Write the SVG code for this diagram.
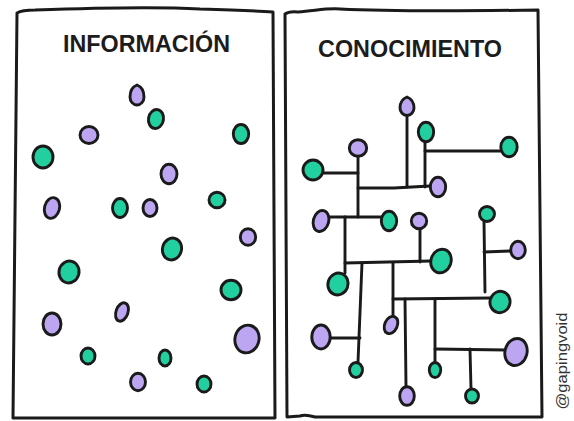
<svg xmlns="http://www.w3.org/2000/svg" width="574" height="421" viewBox="0 0 574 421">
<style>
.frame{fill:none;stroke:#1a1a1a;stroke-width:3;stroke-linejoin:round;stroke-linecap:round}
.g{fill:#22cf9f;stroke:#1a1a1a;stroke-width:2.9}
.p{fill:#bca6f1;stroke:#1a1a1a;stroke-width:2.9}
.title{font-family:"Liberation Sans",Arial,sans-serif;font-weight:bold;font-size:24px;fill:#1c1c1c}
.sig{font-family:"Liberation Sans",Arial,sans-serif;font-size:15px;fill:#333}
#connectors path{fill:none;stroke:#1a1a1a;stroke-width:2.9;stroke-linecap:round}
</style>
<rect width="574" height="421" fill="#ffffff"/>

<!-- Frames -->
<path class="frame" d="M17,13 Q22,10 35,10 C90,8 150,6 200,9 C235,10 258,11 273,12 L275,418 L13,418 Z"/>
<path class="frame" d="M285,14 Q289,11 298,12 C315,11 325,8 340,9 C400,12 470,11 538,10 L542,417 L315,417 Q305,414 300,416 L287,417 Z"/>

<text class="title" x="146.5" y="52" text-anchor="middle" textLength="167" lengthAdjust="spacingAndGlyphs">INFORMACIÓN</text>
<text class="title" x="410" y="57" text-anchor="middle" textLength="184" lengthAdjust="spacingAndGlyphs">CONOCIMIENTO</text>

<text class="sig" transform="translate(567,361) rotate(-90)" text-anchor="middle" textLength="97" lengthAdjust="spacingAndGlyphs">@gapingvoid</text>

<!-- Left panel: information (scattered nodes) -->
<g id="info1"><path class="p" d="M137,85 C142,87 144,92 144,97 A7,8 0 0 1 130,97 C130,92 132,87 137,85 Z"/></g>
<g id="info2"><ellipse class="g" cx="156" cy="119" rx="7.5" ry="9.5" transform="rotate(10 156 119)"/></g>
<g id="info3"><ellipse class="p" cx="89" cy="135" rx="9" ry="8.5"/></g>
<g id="info4"><ellipse class="g" cx="241" cy="134" rx="7.7" ry="9.5"/></g>
<g id="info5"><ellipse class="g" cx="43" cy="157" rx="10" ry="11"/></g>
<g id="info6"><ellipse class="p" cx="169" cy="174" rx="8" ry="9.7"/></g>
<g id="info7"><ellipse class="p" cx="52" cy="208" rx="7.5" ry="10.5" transform="rotate(15 52 208)"/></g>
<g id="info8"><ellipse class="g" cx="120" cy="208" rx="7.5" ry="9.5"/></g>
<g id="info9"><ellipse class="p" cx="150" cy="208" rx="7" ry="8.5"/></g>
<g id="info10"><ellipse class="g" cx="217" cy="200" rx="8" ry="7.8"/></g>
<g id="info11"><ellipse class="p" cx="248" cy="237" rx="7.7" ry="8.3"/></g>
<g id="info12"><ellipse class="g" cx="172" cy="249" rx="9.5" ry="11" transform="rotate(15 172 249)"/></g>
<g id="info13"><ellipse class="g" cx="69" cy="272" rx="10" ry="11" transform="rotate(15 69 272)"/></g>
<g id="info14"><ellipse class="g" cx="231" cy="290" rx="10" ry="9.7"/></g>
<g id="info15"><ellipse class="p" cx="122" cy="312" rx="6" ry="9.5" transform="rotate(20 122 312)"/></g>
<g id="info16"><ellipse class="p" cx="52" cy="324" rx="9" ry="11"/></g>
<g id="info17"><ellipse class="p" cx="247" cy="339" rx="12" ry="14" transform="rotate(15 247 339)"/></g>
<g id="info18"><ellipse class="g" cx="88" cy="356" rx="7" ry="8"/></g>
<g id="info19"><ellipse class="g" cx="165" cy="358" rx="6" ry="8"/></g>
<g id="info20"><ellipse class="p" cx="138" cy="382" rx="7.5" ry="8.7"/></g>
<g id="info21"><ellipse class="g" cx="204" cy="384" rx="7" ry="8"/></g>

<!-- Right panel: connectors -->
<g id="connectors">
<path d="M407,117 L407,187"/>
<path d="M425,142 L425,187"/>
<path d="M425,151 L501,151"/>
<path d="M358,188 L394,188 L430,186"/>
<path d="M358,157 L358,217"/>
<path d="M323,173 L358,173"/>
<path d="M330,217 L381,217"/>
<path d="M345,217 L345,273"/>
<path d="M345,263 L431,261"/>
<path d="M420,229 L420,262"/>
<path d="M362,263 L358,362"/>
<path d="M330,338 L360,338"/>
<path d="M393,263 L393,316"/>
<path d="M393,299 L490,298"/>
<path d="M405,299 L406,386"/>
<path d="M435,299 L435,362"/>
<path d="M435,349 L506,350"/>
<path d="M470,349 L471,389"/>
<path d="M484,222 L485,292"/>
<path d="M484,252 L510,251"/>
</g>

<!-- Right panel: knowledge nodes -->
<g id="kA"><path class="p" d="M407,97 C412,99 414,103 414,108 A7,7.5 0 0 1 400,108 C400,103 402,99 407,97 Z"/></g>
<g id="kB"><ellipse class="g" cx="426" cy="132" rx="7.7" ry="9.7"/></g>
<g id="kC"><ellipse class="g" cx="509" cy="147" rx="8.2" ry="9.7"/></g>
<g id="kD"><ellipse class="p" cx="358" cy="148" rx="8.7" ry="8.3"/></g>
<g id="kE"><ellipse class="g" cx="313" cy="170" rx="10" ry="10"/></g>
<g id="kF"><ellipse class="p" cx="438" cy="187" rx="7.7" ry="9.7"/></g>
<g id="kG"><ellipse class="g" cx="487" cy="214" rx="7.5" ry="7.5"/></g>
<g id="kH"><ellipse class="p" cx="321" cy="221" rx="7.7" ry="10.7" transform="rotate(15 321 221)"/></g>
<g id="kI"><ellipse class="g" cx="389" cy="221" rx="7.7" ry="9.7"/></g>
<g id="kJ"><ellipse class="p" cx="419" cy="221" rx="7.7" ry="7.7"/></g>
<g id="kK"><ellipse class="p" cx="518" cy="250" rx="7.3" ry="8.7"/></g>
<g id="kL"><ellipse class="g" cx="441" cy="261" rx="10" ry="12" transform="rotate(20 441 261)"/></g>
<g id="kM"><ellipse class="g" cx="338" cy="284" rx="10" ry="11" transform="rotate(20 338 284)"/></g>
<g id="kN"><ellipse class="g" cx="500" cy="302" rx="10" ry="10.7" transform="rotate(15 500 302)"/></g>
<g id="kO"><ellipse class="p" cx="391" cy="325" rx="6.3" ry="9" transform="rotate(25 391 325)"/></g>
<g id="kP"><ellipse class="p" cx="321" cy="337" rx="9.2" ry="12"/></g>
<g id="kQ"><ellipse class="p" cx="516" cy="352" rx="11" ry="13.7" transform="rotate(15 516 352)"/></g>
<g id="kR"><ellipse class="g" cx="356" cy="370" rx="6.5" ry="7.5"/></g>
<g id="kS"><ellipse class="g" cx="435" cy="370" rx="5.7" ry="7.5"/></g>
<g id="kT"><ellipse class="p" cx="407" cy="396" rx="7.3" ry="9.3"/></g>
<g id="kU"><ellipse class="g" cx="472" cy="396" rx="6.5" ry="7"/></g>
</svg>
